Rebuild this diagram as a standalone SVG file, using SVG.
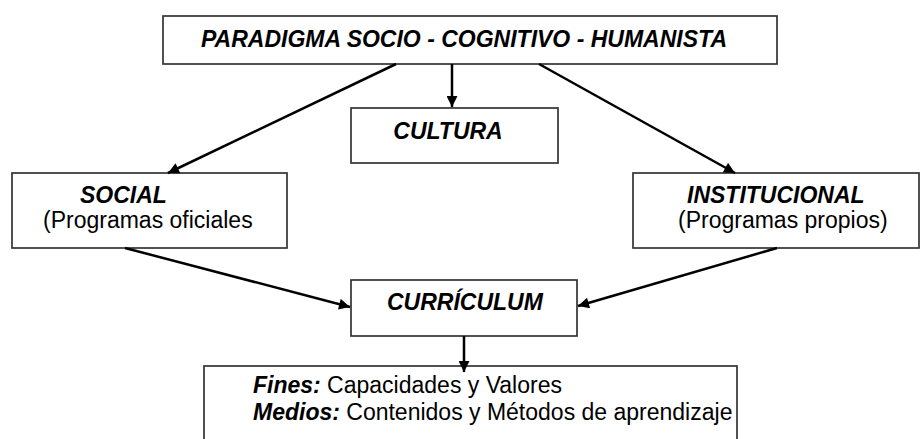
<svg xmlns="http://www.w3.org/2000/svg" width="920" height="439" viewBox="0 0 920 439">
<style>
.box{fill:#fff;stroke:#333;stroke-width:1.7}
.t{font-family:"Liberation Sans",Arial,sans-serif;font-size:23px;fill:#000}
.bi{font-weight:bold;font-style:italic}
.c{stroke:#000;stroke-width:2.5;fill:none;marker-end:url(#ah)}
</style>
<defs>
<marker id="ah" viewBox="0 0 10 10" refX="10" refY="5" markerWidth="5" markerHeight="4.4" orient="auto" markerUnits="strokeWidth">
<path d="M0,0 L10,5 L0,10 z" fill="#000"/>
</marker>
</defs>
<rect width="920" height="439" fill="#fff"/>
<g id="paradigma">
<rect class="box" x="163" y="16" width="614" height="48"/>
<text class="t bi" x="464" y="47" text-anchor="middle">PARADIGMA SOCIO - COGNITIVO - HUMANISTA</text>
</g>
<g id="cultura">
<rect class="box" x="351" y="108" width="207" height="55"/>
<text class="t bi" x="448" y="139" text-anchor="middle">CULTURA</text>
</g>
<g id="social">
<rect class="box" x="12" y="173" width="275" height="75"/>
<text class="t bi" x="80" y="203">SOCIAL</text>
<text class="t" x="43" y="228">(Programas oficiales</text>
</g>
<g id="institucional">
<rect class="box" x="633" y="173" width="286" height="75"/>
<text class="t bi" x="687" y="203">INSTITUCIONAL</text>
<text class="t" x="678" y="228">(Programas propios)</text>
</g>
<g id="curriculum">
<rect class="box" x="351" y="280" width="226" height="56"/>
<text class="t bi" x="387" y="310">CURRÍCULUM</text>
</g>
<g id="fines">
<rect class="box" x="204" y="366" width="533" height="80"/>
<text class="t" x="253" y="393"><tspan class="bi">Fines:</tspan> Capacidades y Valores</text>
<text class="t" x="253" y="420"><tspan class="bi">Medios:</tspan> Contenidos y Métodos de aprendizaje</text>
</g>
<g id="connectors">
<line class="c" x1="452" y1="64" x2="452" y2="107"/>
<line class="c" x1="396" y1="64" x2="168" y2="173"/>
<line class="c" x1="539" y1="64" x2="735" y2="173"/>
<line class="c" x1="125" y1="248" x2="350" y2="307"/>
<line class="c" x1="777" y1="248" x2="578" y2="306"/>
<line class="c" x1="464" y1="336" x2="464" y2="372"/>
</g>
</svg>
